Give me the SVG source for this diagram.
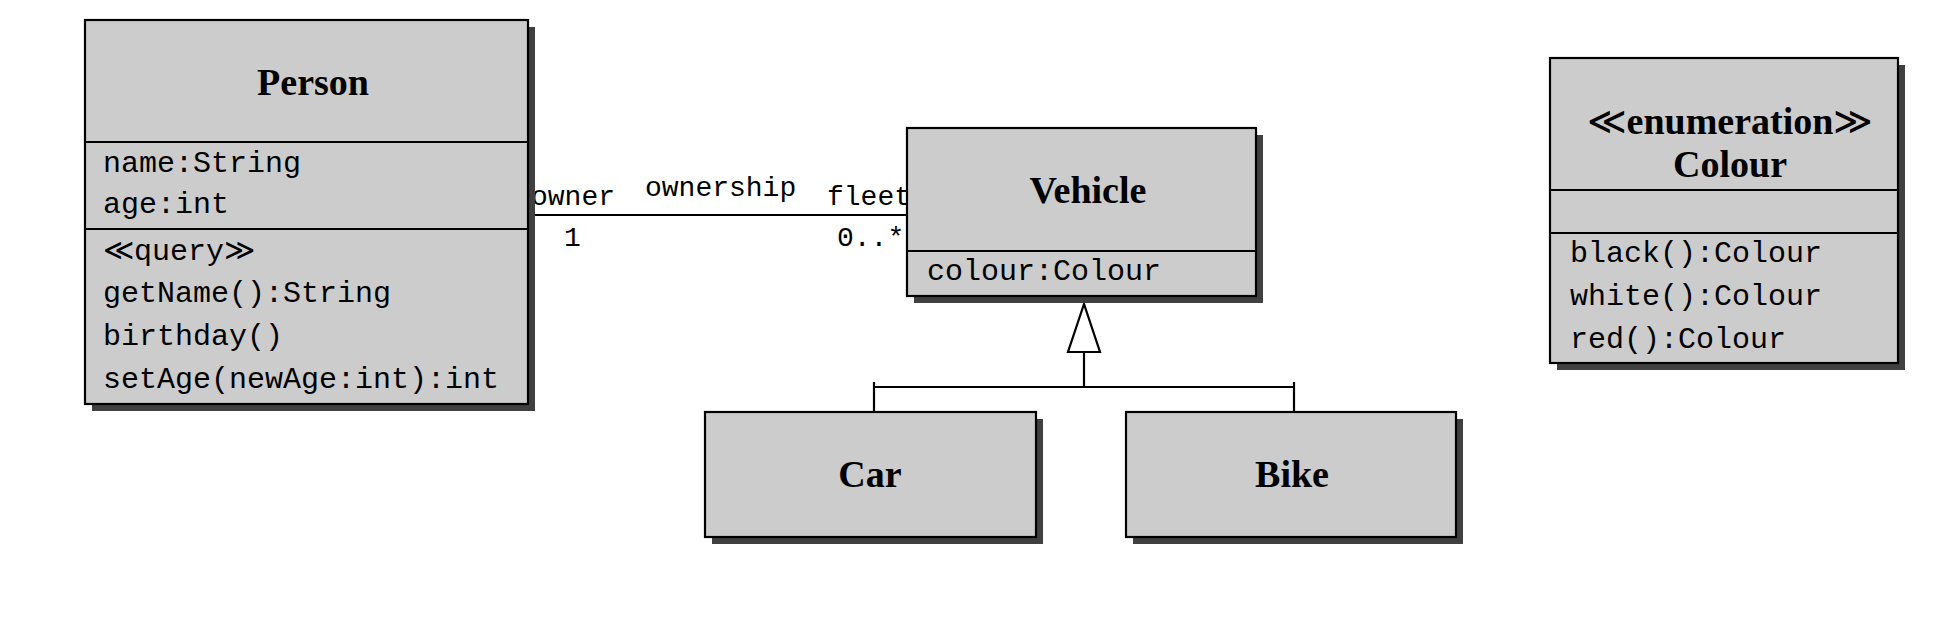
<svg xmlns="http://www.w3.org/2000/svg" width="1936" height="630" viewBox="0 0 1936 630">
<style>
.shadow{fill:#404040;stroke:none}
.box{fill:#cccccc;stroke:#000;stroke-width:2.2}
.div{stroke:#000;stroke-width:2.2}
.title{font-family:"Liberation Serif","DejaVu Serif",serif;font-weight:bold;font-size:38px;text-anchor:middle;fill:#000}
.thin{font-weight:normal}
.mono{font-family:"Liberation Mono","DejaVu Sans Mono",monospace;font-size:30px;fill:#000}
.lbl{font-family:"Liberation Mono","DejaVu Sans Mono",monospace;font-size:28px;fill:#000}
.line{stroke:#000;stroke-width:2.2;fill:none}
</style>
<rect width="1936" height="630" fill="#fff"/>
<g id="connectors">
<line class="line" x1="528" y1="215" x2="907" y2="215"/>
<text class="lbl" x="531" y="205">owner</text>
<text class="lbl" x="645" y="196">ownership</text>
<text class="lbl" x="827" y="205">fleet</text>
<text class="lbl" x="564" y="246">1</text>
<text class="lbl" x="837" y="246">0..*</text>
<polygon points="1084,304 1068,352 1100,352" fill="#fff" stroke="#000" stroke-width="2.2"/>
<line class="line" x1="1084" y1="352" x2="1084" y2="387"/>
<line class="line" x1="874" y1="387" x2="1294" y2="387"/>
<line class="line" x1="874" y1="382" x2="874" y2="412"/>
<line class="line" x1="1294" y1="382" x2="1294" y2="412"/>
</g>
<g id="person">
<rect class="shadow" x="92" y="27" width="443" height="384"/>
<rect class="box" x="85" y="20" width="443" height="384"/>
<line class="div" x1="85" y1="142" x2="528" y2="142"/>
<line class="div" x1="85" y1="229" x2="528" y2="229"/>
<text class="title" x="313" y="95">Person</text>
<text class="mono" x="103" y="172">name:String</text>
<text class="mono" x="103" y="213">age:int</text>
<text class="mono" x="103" y="260">≪query≫</text>
<text class="mono" x="103" y="302">getName():String</text>
<text class="mono" x="103" y="345">birthday()</text>
<text class="mono" x="103" y="388">setAge(newAge:int):int</text>
</g>
<g id="vehicle">
<rect class="shadow" x="914" y="135" width="349" height="168"/>
<rect class="box" x="907" y="128" width="349" height="168"/>
<line class="div" x1="907" y1="251" x2="1256" y2="251"/>
<text class="title" x="1088" y="203">Vehicle</text>
<text class="mono" x="927" y="280">colour:Colour</text>
</g>
<g id="car">
<rect class="shadow" x="712" y="419" width="331" height="125"/>
<rect class="box" x="705" y="412" width="331" height="125"/>
<text class="title" x="870" y="487">Car</text>
</g>
<g id="bike">
<rect class="shadow" x="1133" y="419" width="330" height="125"/>
<rect class="box" x="1126" y="412" width="330" height="125"/>
<text class="title" x="1292" y="487">Bike</text>
</g>
<g id="colour">
<rect class="shadow" x="1557" y="65" width="348" height="305"/>
<rect class="box" x="1550" y="58" width="348" height="305"/>
<line class="div" x1="1550" y1="190" x2="1898" y2="190"/>
<line class="div" x1="1550" y1="233" x2="1898" y2="233"/>
<text class="title" x="1730" y="134"><tspan class="thin">≪</tspan>enumeration<tspan class="thin">≫</tspan></text>
<text class="title" x="1730" y="177">Colour</text>
<text class="mono" x="1570" y="262">black():Colour</text>
<text class="mono" x="1570" y="305">white():Colour</text>
<text class="mono" x="1570" y="348">red():Colour</text>
</g>
</svg>
